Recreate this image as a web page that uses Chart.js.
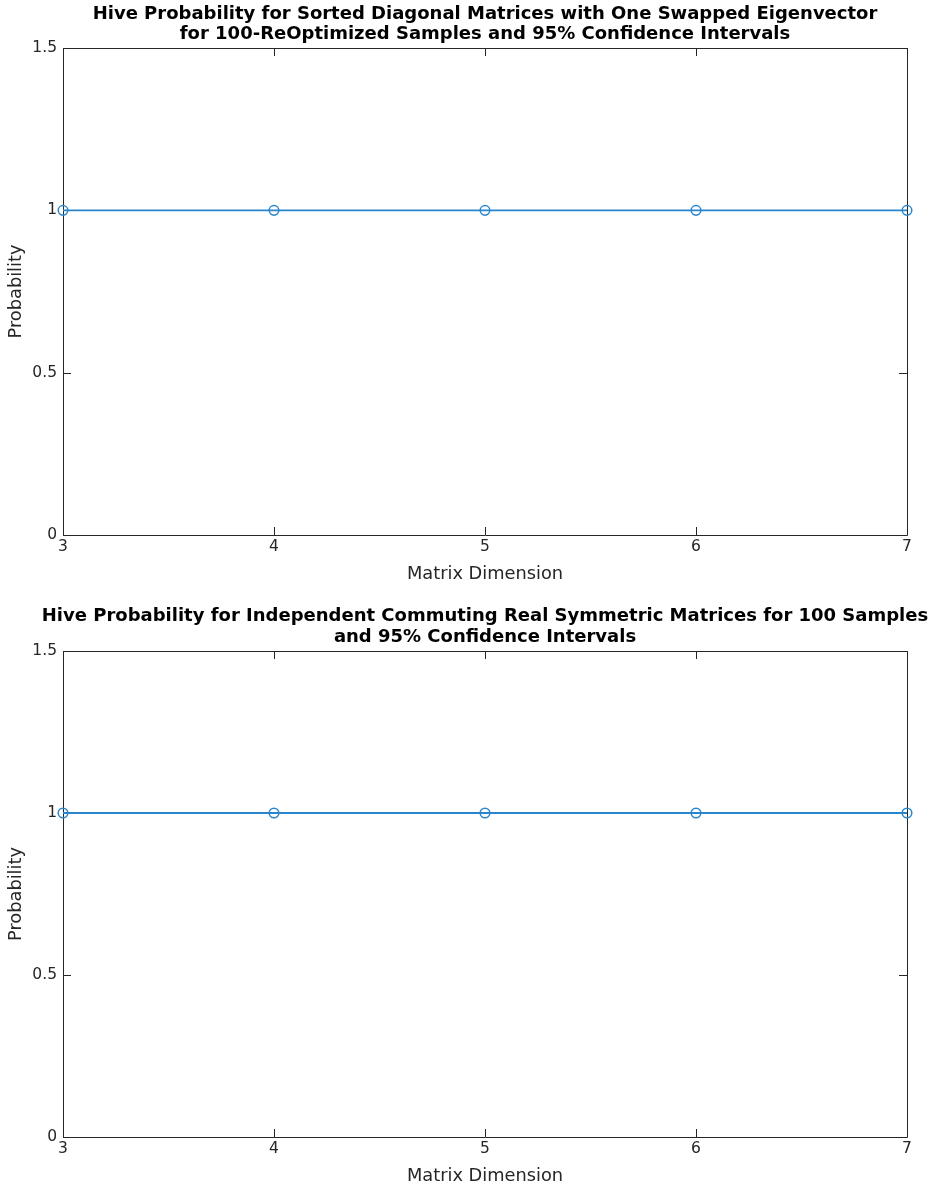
<!DOCTYPE html>
<html>
<head>
<meta charset="utf-8">
<script src="https://cdn.jsdelivr.net/npm/chart.js@4.4.0/dist/chart.umd.min.js"></script>
<style>
  html, body { margin: 0; padding: 0; background: #fff; }
  #wrap { position: relative; width: 930px; height: 1190px; }
  .panel { position: absolute; left: 0; width: 930px; height: 595px; }
</style>
</head>
<body>
<div id="wrap">
  <div class="panel" style="top:0"><canvas id="c1" width="930" height="595"></canvas></div>
  <div class="panel" style="top:595px"><canvas id="c2" width="930" height="595"></canvas></div>
</div>
<script>
// ---- data ----
const matrixDims = [3, 4, 5, 6, 7];
const probSortedDiagonal = [1, 1, 1, 1, 1];
const probIndependentCommuting = [1, 1, 1, 1, 1];
const xTickValues = [3, 4, 5, 6, 7];
const yTickValues = [0, 0.5, 1, 1.5];
const yTickLabels = ['0', '0.5', '1', '1.5'];
const title1 = ['Hive Probability for Sorted Diagonal Matrices with One Swapped Eigenvector',
                'for 100-ReOptimized Samples and 95% Confidence Intervals'];
const title2 = ['Hive Probability for Independent Commuting Real Symmetric Matrices for 100 Samples',
                'and 95% Confidence Intervals'];
const xLabel = 'Matrix Dimension';
const yLabel = 'Probability';

const AXIS_COLOR = '#262626';
const LINE_COLOR = '#2a86cc';
const FONT = 'DejaVu Sans';

// Centre the title over the axes (MATLAB style) while letting it be wider than the axes.
const titleCenterPlugin = {
  id: 'titleCenter',
  afterLayout(chart) {
    const tb = chart.titleBlock;
    if (!tb) return;
    const a = chart.chartArea;
    const c = (a.left + a.right) / 2;
    const half = Math.min(c, chart.width - c);
    tb.left = c - half;
    tb.right = c + half;
    tb.width = 2 * half;
  }
};

const boxPlugin = {
  id: 'matlabBox',
  beforeDatasetsDraw(chart) {
    const {ctx, chartArea: a, scales} = chart;
    const tl = 8;
    ctx.save();
    ctx.strokeStyle = AXIS_COLOR;
    ctx.lineWidth = 1;
    ctx.beginPath();
    ctx.rect(Math.round(a.left) + 0.5, Math.round(a.top) + 0.5,
             Math.round(a.right - a.left), Math.round(a.bottom - a.top));
    ctx.stroke();
    ctx.beginPath();
    scales.x.ticks.forEach(t => {
      const px = Math.round(scales.x.getPixelForValue(t.value)) + 0.5;
      ctx.moveTo(px, a.bottom); ctx.lineTo(px, a.bottom - tl);
      ctx.moveTo(px, a.top); ctx.lineTo(px, a.top + tl);
    });
    scales.y.ticks.forEach(t => {
      const py = Math.round(scales.y.getPixelForValue(t.value)) + 0.5;
      ctx.moveTo(a.left, py); ctx.lineTo(a.left + tl, py);
      ctx.moveTo(a.right, py); ctx.lineTo(a.right - tl, py);
    });
    ctx.stroke();
    ctx.restore();
  }
};

function makeChart(id, values, titleLines, titlePad, xHeight, xTitlePadBottom) {
  return new Chart(document.getElementById(id), {
    type: 'line',
    data: {
      datasets: [{
        data: matrixDims.map((d, i) => ({x: d, y: values[i]})),
        borderColor: LINE_COLOR,
        backgroundColor: 'rgba(0,0,0,0)',
        borderWidth: 1.8,
        pointStyle: 'circle',
        pointRadius: 4.8,
        pointBorderWidth: 1.5,
        pointBorderColor: LINE_COLOR,
        pointBackgroundColor: 'rgba(0,0,0,0)',
        tension: 0,
        clip: false
      }]
    },
    options: {
      responsive: false,
      animation: false,
      devicePixelRatio: 1,
      layout: { padding: { left: 0, right: 23, top: 0, bottom: 0 } },
      plugins: {
        legend: { display: false },
        tooltip: { enabled: false },
        title: {
          display: true,
          fullSize: true,
          text: titleLines,
          color: '#000',
          font: { family: FONT, size: 18, weight: 'bold', lineHeight: titlePad.lh },
          padding: { top: titlePad.top, bottom: titlePad.bottom }
        }
      },
      scales: {
        x: {
          type: 'linear',
          min: 3, max: 7,
          afterBuildTicks: s => { s.ticks = xTickValues.map(v => ({value: v})); },
          afterFit: s => { s.height = xHeight; },
          grid: { display: false, drawTicks: false },
          border: { display: false },
          ticks: { color: AXIS_COLOR, font: { family: FONT, size: 15.5 }, padding: 3, maxRotation: 0 },
          title: { display: true, text: xLabel, color: AXIS_COLOR,
                   font: { family: FONT, size: 17.8 }, padding: { top: 0, bottom: xTitlePadBottom } }
        },
        y: {
          type: 'linear',
          min: 0, max: 1.5,
          afterBuildTicks: s => { s.ticks = yTickValues.map(v => ({value: v})); },
          afterFit: s => { s.width = 63; },
          grid: { display: false, drawTicks: false },
          border: { display: false },
          ticks: { color: AXIS_COLOR, font: { family: FONT, size: 15.5 }, padding: 6,
                   callback: (v) => yTickLabels[yTickValues.indexOf(v)] },
          title: { display: true, text: yLabel, color: AXIS_COLOR,
                   font: { family: FONT, size: 17.8 }, padding: { top: 6, bottom: 0 } }
        }
      }
    },
    plugins: [titleCenterPlugin, boxPlugin]
  });
}

makeChart('c1', probSortedDiagonal, title1, {top: 4, bottom: 4, lh: 1.111}, 60, 9.5);
makeChart('c2', probIndependentCommuting, title2, {top: 11, bottom: 3, lh: 1.167}, 53, 2.5);
</script>
</body>
</html>
